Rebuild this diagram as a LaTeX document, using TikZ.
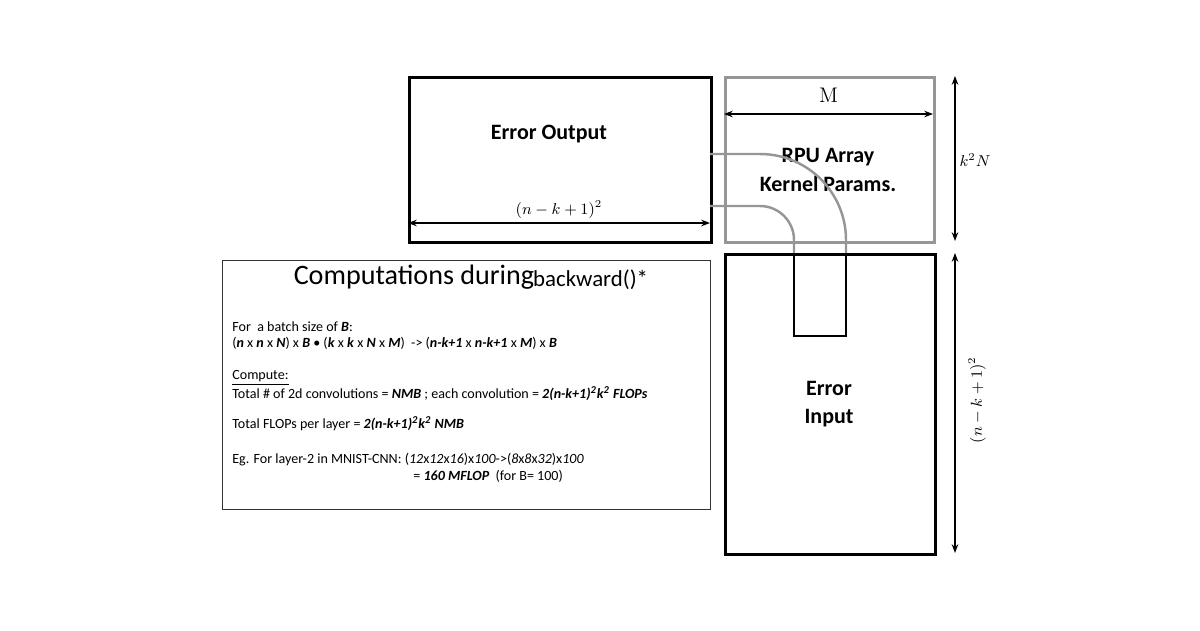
\documentclass[tikz,border=0pt]{standalone}
\usepackage{fontspec}
\setmainfont{Carlito}
\newfontfamily\lmserif{Latin Modern Roman}
\usetikzlibrary{arrows.meta, positioning}
\definecolor{arrayGray}{RGB}{150, 150, 150}
\tikzset{
    block/.style={
        rectangle,
        draw=black,
        line width=1.6pt,
        inner sep=0pt
    },
    rpuBlock/.style={
        block,
        draw=arrayGray
    },
    infoBox/.style={
        rectangle,
        draw=black!80,
        line width=0.6pt,
        inner sep=0pt
    },
    blockLabel/.style={
        font=\bfseries\fontsize{12.5}{16}\selectfont,
        align=center
    },
    dimArrow/.style={
        {Stealth[length=5pt]}-{Stealth[length=5pt]},
        line width=0.7pt
    },
    bodyText/.style={
        font=\fontsize{8}{10}\selectfont,
        anchor=west,
        inner sep=0pt
    },
    gradPath/.style={
        draw=arrayGray,
        line width=1.4pt
    }
}

\begin{document}
\begin{tikzpicture}[x=0.02cm, y=-0.02cm]
    \useasboundingbox (0,0) rectangle (1200,630);

    % Blocks
    \node[block, minimum width=302*0.02cm, minimum height=165*0.02cm, anchor=north west] (errout) at (408,76) {};
    \node[blockLabel] at (549,134) {Error Output};
    \node[rpuBlock, minimum width=209*0.02cm, minimum height=165*0.02cm, anchor=north west] (rpu) at (724,76) {};
    \node[blockLabel] at (828,170) {RPU Array\\Kernel Params.};
    \node[block, minimum width=210*0.02cm, minimum height=300*0.02cm, anchor=north west] (errin) at (724,253) {};
    \node[blockLabel] at (829,404) {Error\\Input};

    % Paths of data through the array
    \coordinate (outA) at (710,154);
    \coordinate (outB) at (710,206);
    \draw[gradPath] (outA) -- (760,154) arc[start angle=-90, end angle=0, radius=86] -- (846,253);
    \draw[gradPath] (outB) -- (760,206) arc[start angle=-90, end angle=0, radius=34] -- (794,253);
    \draw[line width=1.6pt] (794,253) -- (794,336) -- (846,336) -- (846,253);

    % Dimensions
    \coordinate (mL) at (724,114);
    \coordinate (mR) at (933,114);
    \draw[dimArrow] (mL) -- (mR) node[midway, above=3pt, font=\fontsize{12}{14}\selectfont\lmserif] {M};
    \coordinate (oL) at (408,223);
    \coordinate (oR) at (710,223);
    \draw[dimArrow] (oL) -- (oR) node[midway, above=-1pt, font=\fontsize{9}{11}\selectfont] {$(n-k+1)^2$};
    \coordinate (kT) at (955,76);
    \coordinate (kB) at (955,241);
    \draw[dimArrow] (kT) -- (kB);
    \node[font=\fontsize{9}{11}\selectfont] at (975,160) {$k^2N$};
    \coordinate (nT) at (955,253);
    \coordinate (nB) at (955,553);
    \draw[dimArrow] (nT) -- (nB);
    \node[font=\fontsize{9}{11}\selectfont, rotate=90] at (977,400) {$(n-k+1)^2$};

    % Computation summary
    \node[infoBox, minimum width=488*0.02cm, minimum height=249*0.02cm, anchor=north west] (info) at (222,260) {};
    \node[font=\fontsize{16}{18}\selectfont] at (414,277) {Computations during};
    \node[font=\fontsize{13}{16}\selectfont, anchor=west] at (527,280) {backward()*};
    \node[bodyText] at (232,327) {For\ \ a batch size of \textbf{\textit{B}}:};
    \node[bodyText] at (232,343) {(\textbf{\textit{n}} x \textbf{\textit{n}} x \textbf{\textit{N}}) x \textbf{\textit{B}} \textbullet\ (\textbf{\textit{k}} x \textbf{\textit{k}} x \textbf{\textit{N}} x \textbf{\textit{M}})\ \ -> (\textbf{\textit{n-k+1}} x \textbf{\textit{n-k+1}} x \textbf{\textit{M}}) x \textbf{\textit{B}}};
    \node[bodyText] at (232,378) {\underline{Compute:}};
    \node[bodyText] at (232,394) {Total \# of 2d convolutions = \textbf{\textit{NMB}} ; each convolution = \textbf{\textit{2(n-k+1)\textsuperscript{2}k\textsuperscript{2} FLOPs}}};
    \node[bodyText] at (232,424) {Total FLOPs per layer = \textbf{\textit{2(n-k+1)\textsuperscript{2}k\textsuperscript{2} NMB}}};
    \node[bodyText] at (232,460) {Eg. For layer-2 in MNIST-CNN: (\textit{12}x\textit{12}x\textit{16})x\textit{100}->(\textit{8}x\textit{8}x\textit{32})x\textit{100}};
    \node[bodyText] at (413,476) {= \textbf{\textit{160 MFLOP}}\ \ (for B= 100)};
\end{tikzpicture}
\end{document}
